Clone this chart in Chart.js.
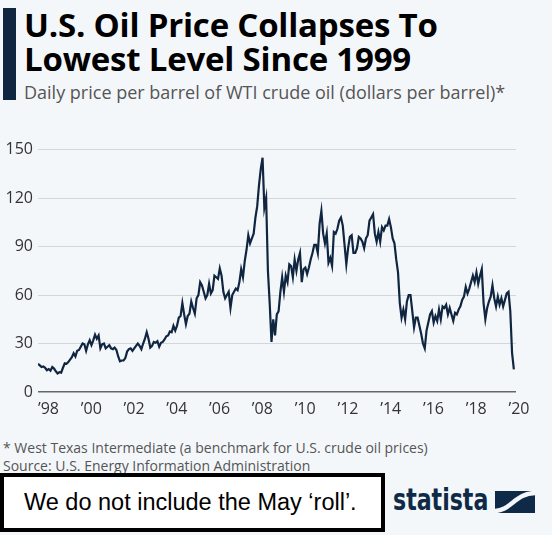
<!DOCTYPE html>
<html lang="en">
<head>
	<meta charset="UTF-8">
	<title>WTI crude oil</title>
	<script src="https://cdn.jsdelivr.net/npm/chart.js@4"></script>
	<style>
		body { margin:0; background:#f4f7fa; }
		#wrap { position:relative; width:552px; height:535px; overflow:hidden; background:#f4f7fa; font-family:"Open Sans", sans-serif; }
		#bar { position:absolute; left:3px; top:8px; width:13px; height:92px; background:#0f2540; }
		#title { position:absolute; left:24px; top:8px; font-size:33px; line-height:34px; font-weight:700; color:#000; letter-spacing:-0.2px; white-space:nowrap; }
		#sub { position:absolute; left:24px; top:80px; font-size:18px; color:#555; white-space:nowrap; }
		#chart { position:absolute; left:0; top:135px; width:552px; height:293px; }
		#notes { position:absolute; left:3px; top:439px; font-size:14px; line-height:18px; color:#555; white-space:nowrap; }
		#box { position:absolute; left:0; top:473px; width:377px; height:51px; border:4px solid #000; background:#fff;
			font-family:"Liberation Sans", Arial, sans-serif; font-size:23.5px; line-height:51px; color:#000; text-indent:20px; white-space:nowrap; }
		#logo { position:absolute; left:393px; top:481px; font-family:"DejaVu Sans Condensed", "DejaVu Sans", sans-serif; font-weight:700; font-size:31px; line-height:36px; color:#0f2a47; transform-origin:0 0; white-space:nowrap; }
		#icon { position:absolute; left:495px; top:491px; width:40px; height:22px; }
	</style>
</head>
<body>
<div id="wrap">
	<div id="bar"></div>
	<div id="title">U.S. Oil Price Collapses To<br>Lowest Level Since 1999</div>
	<div id="sub">Daily price per barrel of WTI crude oil (dollars per barrel)*</div>
	<div id="chart"><canvas id="c"></canvas></div>
	<div id="notes">* West Texas Intermediate (a benchmark for U.S. crude oil prices)<br>Source: U.S. Energy Information Administration</div>
	<div id="box">We do not include the May ‘roll’.</div>
	<div id="logo">statista</div>
	<svg id="icon" viewBox="0 0 40 22">
		<rect x="0" y="0" width="40" height="22" fill="#0f2a47"/>
		<path d="M-1,20 C16,20 20,2 41,2" stroke="#f4f7fa" stroke-width="4.5" fill="none"/>
	</svg>
</div>

<script>
	// WTI price, one value per month, Jan 1998 .. Apr 2020
	var startYear = 1998;
	var prices = [
		17.5, 16.5, 15.5, 15.8, 15.0, 13.5, 14.2, 13.2, 15.5, 14.5, 12.8, 11.5,
		12.3, 12.0, 15.0, 17.8, 17.5, 18.5, 20.0, 21.5, 24.0, 22.0, 25.5, 26.0,
		28.0, 30.0, 29.5, 25.5, 29.5, 32.0, 29.0, 32.0, 35.5, 33.0, 35.0, 27.0,
		29.5, 30.0, 27.0, 28.0, 29.0, 27.0, 26.5, 27.5, 26.0, 22.0, 19.0, 19.5,
		19.5, 21.0, 25.0, 26.5, 27.0, 25.5, 27.0, 28.5, 30.0, 28.5, 26.5, 30.0,
		33.0, 37.0, 33.0, 27.5, 28.5, 31.0, 30.5, 31.5, 28.0, 30.5, 31.0, 32.5,
		34.5, 35.0, 37.5, 37.0, 41.0, 38.0, 41.0, 46.0, 47.0, 55.0, 48.0, 42.0,
		47.0, 48.5, 56.0, 52.0, 48.5, 58.0, 60.0, 68.0, 66.0, 62.0, 58.0, 60.0,
		67.0, 61.0, 63.0, 72.0, 71.0, 70.0, 76.5, 72.0, 62.0, 58.0, 60.0, 62.0,
		52.0, 60.0, 62.0, 64.0, 63.0, 68.0, 76.0, 71.0, 81.0, 88.0, 97.0, 92.0,
		95.0, 98.0, 108.0, 115.0, 128.0, 138.0, 145.0, 114.0, 120.0, 75.0, 55.0, 31.0,
		45.0, 35.0, 48.0, 50.0, 62.0, 71.0, 62.0, 72.0, 68.0, 79.0, 78.0, 71.0,
		82.0, 75.0, 82.0, 86.0, 68.0, 76.0, 77.0, 73.0, 77.0, 82.0, 86.0, 91.0,
		91.0, 86.0, 104.0, 112.0, 98.0, 92.0, 98.0, 80.0, 83.0, 78.0, 99.0, 98.0,
		101.0, 106.0, 108.0, 103.0, 91.0, 79.0, 89.0, 96.0, 97.0, 86.0, 86.0, 89.0,
		96.0, 95.0, 93.0, 89.0, 95.0, 97.0, 106.0, 108.0, 110.0, 98.0, 93.0, 99.0,
		93.0, 102.0, 100.0, 103.0, 103.0, 107.0, 102.0, 95.0, 92.0, 82.0, 74.0, 55.0,
		46.0, 51.0, 45.0, 56.0, 60.0, 60.0, 50.0, 40.0, 46.0, 46.0, 41.0, 36.0,
		30.0, 27.0, 38.0, 43.0, 48.0, 50.0, 43.0, 47.0, 44.0, 51.0, 45.0, 53.0,
		52.0, 54.0, 48.0, 52.0, 48.0, 44.0, 49.0, 48.0, 51.0, 53.0, 57.0, 59.0,
		65.0, 61.0, 64.0, 68.0, 72.0, 68.0, 74.0, 67.0, 72.0, 76.0, 55.0, 45.0,
		52.0, 56.0, 59.0, 66.0, 58.0, 53.0, 59.0, 54.0, 58.0, 53.0, 57.0, 61.0,
		62.0, 50.0, 24.0, 14.0
	];
	var yTicks = [0, 30, 60, 90, 120, 150];
	var xTickYears = [1998, 2000, 2002, 2004, 2006, 2008, 2010, 2012, 2014, 2016, 2018, 2020];

	var points = prices.map(function(p, i){
		return { x: startYear + i / 12, y: p };
	});

	// squeeze the logo word to the condensed width of the original
	var logo = document.getElementById("logo");
	logo.style.transform = "scaleX(" + (95 / logo.offsetWidth) + ")";

	new Chart(document.getElementById("c"), {
		type: "line",
		data: {
			datasets: [{
				data: points,
				borderColor: "#0f2540",
				borderWidth: 2.2,
				pointRadius: 0,
				tension: 0,
				fill: false
			}]
		},
		options: {
			responsive: true,
			maintainAspectRatio: false,
			animation: false,
			layout: { padding: { top: 7, right: 36, left: 0, bottom: 0 } },
			plugins: { legend: { display: false }, tooltip: { enabled: false } },
			scales: {
				x: {
					type: "linear",
					min: 1998,
					max: 2020.35,
					border: { display: false },
					grid: { display: false },
					afterBuildTicks: function(axis){
						axis.ticks = xTickYears.map(function(v){ return { value: v }; });
					},
					afterFit: function(axis){ axis.height = 36; },
					ticks: {
						align: "start",
						autoSkip: false,
						maxRotation: 0,
						padding: 0,
						color: "#333",
						font: { family: "Open Sans", size: 16 },
						callback: function(v){ return "\u2019" + String(v).slice(2); }
					}
				},
				y: {
					min: 0,
					max: 150,
					border: { display: false },
					afterBuildTicks: function(axis){
						axis.ticks = yTicks.map(function(v){ return { value: v }; });
					},
					afterFit: function(axis){ axis.width = 38; },
					grid: {
						drawTicks: false,
						lineWidth: function(ctx){ return ctx.tick && ctx.tick.value === 0 ? 1.5 : 1; },
						color: function(ctx){ return ctx.tick && ctx.tick.value === 0 ? "#666" : "#d3d7dc"; }
					},
					ticks: {
						padding: 5,
						color: "#333",
						font: { family: "Open Sans", size: 16 }
					}
				}
			}
		}
	});
</script>
</body>
</html>
